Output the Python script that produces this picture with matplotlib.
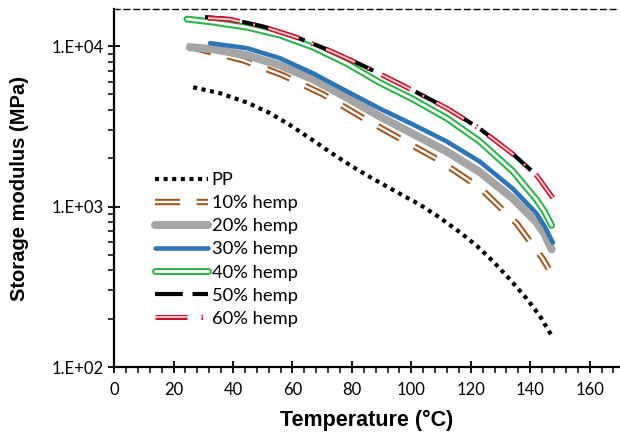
import matplotlib
matplotlib.use("Agg")
import matplotlib.pyplot as plt
import matplotlib.patheffects as pe
from matplotlib.ticker import FixedLocator, LogLocator, NullFormatter, MultipleLocator

plt.rcParams['lines.scale_dashes'] = False

# ---- data ----
t_pp = [26.6, 35.6, 44.7, 52.4, 59.2, 65.9, 72.6, 79.3, 86.1, 90.4, 96.1, 102.9,
        109.6, 116.3, 122.0, 127.4, 133.1, 138.8, 143.2, 147.2]
e_pp = [5543, 5093, 4457, 3829, 3221, 2665, 2191, 1817, 1528, 1378, 1204, 1028,
        853, 693, 570, 458, 353, 267, 209, 157]

t_10 = [24.5, 43.4, 56.8, 70.3, 83.4, 96.1, 108.9, 123.0, 135.5, 144.2, 146.2]
e_10 = [10000, 8175, 6590, 5010, 3600, 2660, 1966, 1315, 783, 473, 410]

t_20 = [25.5, 33.3, 44.7, 55.8, 66.9, 78.3, 89.4, 100.5, 111.9, 123.0, 134.1, 142.2,
        144.9, 147.2]
e_20 = [9857, 9576, 8775, 7603, 6221, 4778, 3649, 2846, 2206, 1644, 1125, 796, 670, 542]

t_30 = [32.3, 44.7, 55.8, 66.9, 78.3, 89.7, 100.5, 111.9, 123.0, 134.1, 142.2, 144.9, 147.6]
e_30 = [10441, 9716, 8414, 6776, 5233, 4055, 3254, 2548, 1911, 1296, 904, 750, 596]

t_40 = [24.5, 33.3, 44.7, 55.8, 66.9, 78.3, 89.4, 100.5, 111.9, 123.0, 134.1, 142.2,
        144.9, 147.2]
e_40 = [14750, 14125, 13129, 11722, 9870, 7807, 5929, 4677, 3559, 2552, 1664, 1099, 925, 764]

t_50 = [30.6, 39.0, 50.1, 61.5, 72.6, 83.7, 89.4, 100.5, 111.9, 123.0, 134.1, 142.2, 147.6]
e_50 = [15180, 14750, 13275, 11350, 9387, 7568, 6730, 5309, 4113, 3064, 2134, 1563, 1133]

t_60 = [31.6, 39.0, 50.1, 61.5, 72.6, 83.7, 89.4, 100.5, 111.9, 123.0, 134.1, 142.2, 147.6]
e_60 = [14960, 14700, 13250, 11330, 9370, 7560, 6720, 5300, 4110, 3060, 2130, 1560, 1135]

labels = ["PP", "10% hemp", "20% hemp", "30% hemp", "40% hemp", "50% hemp", "60% hemp"]
x_ticks = [0, 20, 40, 60, 80, 100, 120, 140, 160]
y_ticks = [100, 1000, 10000]
y_ticklabels = ["1.E+02", "1.E+03", "1.E+04"]

tick_font = "Lato"
title_font = "Liberation Sans"

fig = plt.figure(figsize=(6.2, 4.38), dpi=100)
ax = fig.add_axes([0.184, 0.162, 0.815, 0.817])

ax.plot(t_pp, e_pp, color="black", lw=3.0, linestyle=(0, (2.9, 3.3)),
        dash_capstyle="butt", label=labels[0])

ax.plot(t_10, e_10, color="white", lw=1.7, linestyle=(0, (18, 12)),
        dash_capstyle="butt", label=labels[1],
        path_effects=[pe.Stroke(linewidth=4.6, foreground="#A0561E"), pe.Normal()])

ax.plot(t_20, e_20, color="#A5A5A5", lw=5.8, solid_capstyle="round",
        solid_joinstyle="round", label=labels[2])

ax.plot(t_30, e_30, color="#2E75B6", lw=3.3, solid_capstyle="round",
        solid_joinstyle="round", label=labels[3])

ax.plot(t_40, e_40, color="white", lw=2.0, solid_capstyle="round",
        solid_joinstyle="round", label=labels[4],
        path_effects=[pe.Stroke(linewidth=5.0, foreground="#2DB34A",
                                capstyle="round", joinstyle="round"), pe.Normal()])

ax.plot(t_50, e_50, color="black", lw=3.0, linestyle=(0, (20, 7)),
        dash_capstyle="butt", label=labels[5])

ax.plot(t_60, e_60, color="#F6CACA", lw=1.4, linestyle=(0, (23, 10, 1.2, 10)),
        dash_capstyle="butt", label=labels[6],
        path_effects=[pe.Stroke(linewidth=3.6, foreground="#C8102E"), pe.Normal()])

ax.set_yscale("log")
ax.set_xlim(0, 170)
ax.set_ylim(100, 17000)

ax.xaxis.set_major_locator(FixedLocator(x_ticks))
ax.xaxis.set_minor_locator(MultipleLocator(4))
ax.yaxis.set_major_locator(FixedLocator(y_ticks))
ax.set_yticklabels(y_ticklabels)
ax.yaxis.set_minor_locator(LogLocator(base=10, subs=range(2, 10)))
ax.yaxis.set_minor_formatter(NullFormatter())

ax.tick_params(which="major", direction="inout", length=9, width=1.3, colors="black",
               labelsize=12)
ax.tick_params(which="minor", direction="out", length=4, width=1.1)
for lab in ax.get_xticklabels() + ax.get_yticklabels():
    lab.set_fontfamily(tick_font)
ax.tick_params(axis="x", pad=6)
ax.tick_params(axis="y", pad=3)

ax.spines["right"].set_visible(False)
ax.spines["left"].set_linewidth(1.6)
ax.spines["bottom"].set_linewidth(1.6)
ax.spines["top"].set_linestyle((0, (4, 3)))
ax.spines["top"].set_linewidth(1.0)

ax.set_xlabel("Temperature (°C)", fontsize=15.5, fontweight="bold",
              fontfamily=title_font, labelpad=9)
ax.set_ylabel("Storage modulus (MPa)", fontsize=14.5, fontweight="bold",
              fontfamily=title_font, labelpad=16)

leg = fig.legend(*ax.get_legend_handles_labels(), loc="upper left",
                 bbox_to_anchor=(155 / 620, 1 - 172 / 438), frameon=False,
                 prop={"family": tick_font, "size": 13.2}, handlelength=2.9,
                 handletextpad=0.2, labelspacing=0.39, borderpad=0, borderaxespad=0)

fig.savefig("out.png", dpi=100)
